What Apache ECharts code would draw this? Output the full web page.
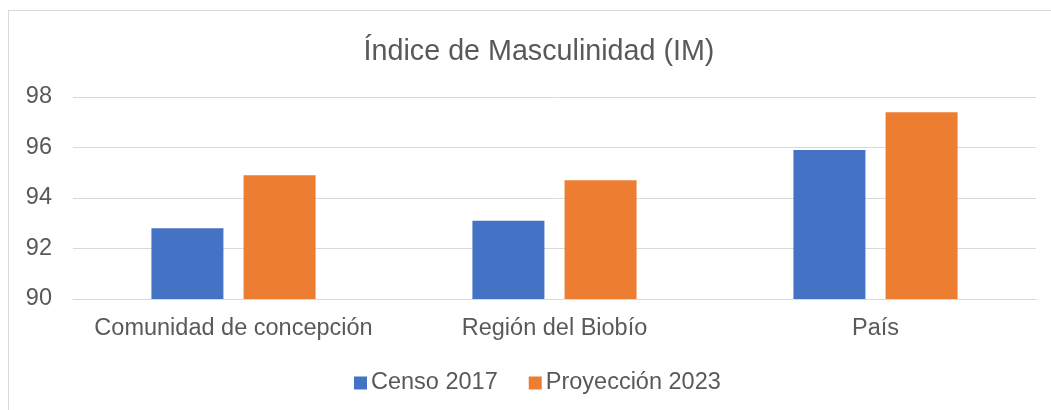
<!DOCTYPE html>
<html>
<head>
<meta charset="utf-8">
<script src="https://cdn.jsdelivr.net/npm/echarts@6/dist/echarts.min.js"></script>
<style>
    body { margin: 0; background: #FFFFFF; }
    .frame {
        position: absolute;
        left: 8px;
        top: 10px;
        width: 1100px;
        height: 500px;
        border: 1px solid #D9D9D9;
    }
    #chart {
        position: absolute;
        left: 0;
        top: 0;
        width: 1051px;
        height: 410px;
    }
</style>
</head>
<body>
<div class="frame"></div>
<div id="chart"></div>
<script>
  const categories = ['Comunidad de concepción', 'Región del Biobío', 'País']
  const censo2017 = [92.8, 93.1, 95.9]
  const proyeccion2023 = [94.9, 94.7, 97.4]
  const seriesNames = ['Censo 2017', 'Proyección 2023']

  const textColor = '#595959'
  const font = 'Liberation Sans, Arial, sans-serif'

  let myChart = echarts.init(document.getElementById('chart'))
  myChart.setOption({
    animation: false,
    title: {
      text: 'Índice de Masculinidad (IM)',
      left: 534,
      top: 33,
      textAlign: 'center',
      textStyle: {
        fontFamily: font,
        fontSize: 28.7,
        fontWeight: 'normal',
        color: textColor
      }
    },
    legend: {
      data: seriesNames,
      left: 349,
      top: 366,
      icon: 'rect',
      itemWidth: 13,
      itemHeight: 13,
      itemGap: 31,
      textStyle: {
        fontFamily: font,
        fontSize: 23.5,
        color: textColor,
        padding: [0, 0, 0, -1]
      }
    },
    grid: {
      left: 73,
      right: 15,
      top: 97,
      bottom: 111
    },
    xAxis: {
      type: 'category',
      data: categories,
      axisLine: { lineStyle: { color: '#D9D9D9', width: 1 } },
      axisTick: { show: false },
      axisLabel: {
        interval: 0,
        hideOverlap: false,
        margin: 18,
        fontFamily: font,
        fontSize: 23.5,
        color: textColor
      }
    },
    yAxis: {
      type: 'value',
      min: 90,
      max: 98,
      interval: 2,
      axisLine: { show: false },
      axisTick: { show: false },
      splitLine: { lineStyle: { color: '#D9D9D9', width: 1 } },
      axisLabel: {
        margin: 21,
        fontFamily: font,
        fontSize: 23.5,
        color: textColor
      }
    },
    series: [
      {
        name: seriesNames[0],
        type: 'bar',
        data: censo2017,
        barWidth: 72,
        barGap: '28%',
        itemStyle: { color: '#4472C4' }
      },
      {
        name: seriesNames[1],
        type: 'bar',
        data: proyeccion2023,
        barWidth: 72,
        barGap: '28%',
        itemStyle: { color: '#ED7D31' }
      }
    ]
  })
</script>
</body>
</html>
